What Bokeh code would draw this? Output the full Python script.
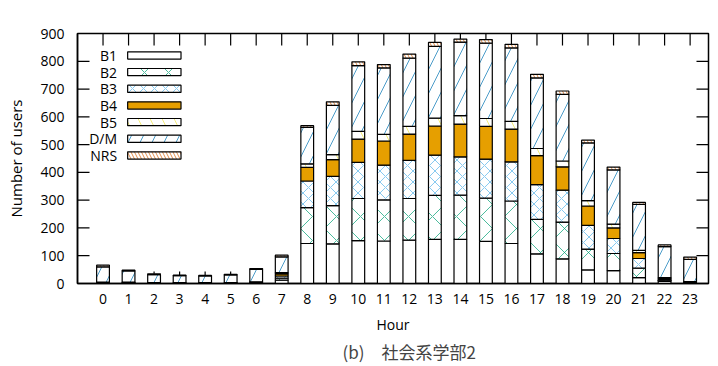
from bokeh.plotting import figure
from bokeh.models import Range1d, FixedTicker, Title, ColumnDataSource
from bokeh.transform import stack
from bokeh.core.properties import value
from bokeh.embed import file_html
from bokeh.resources import INLINE

# ---------------- data ----------------
hours = list(range(24))
hour_labels = [str(h) for h in hours]
y_ticks = [0, 100, 200, 300, 400, 500, 600, 700, 800, 900]

series = ["B1", "B2", "B3", "B4", "B5", "D/M", "NRS"]
b1  = [2, 2, 1, 1, 1, 1, 3, 12, 144, 143, 154, 153, 156, 159, 159, 152, 144, 107, 89, 49, 46, 21, 8, 3]
b2  = [1, 1, 1, 1, 1, 1, 1, 7, 129, 137, 152, 148, 150, 158, 159, 155, 153, 124, 132, 75, 62, 34, 4, 1]
b3  = [1, 1, 0, 0, 0, 0, 1, 8, 96, 106, 130, 125, 137, 145, 138, 141, 141, 125, 115, 85, 54, 35, 4, 1]
b4  = [0, 0, 0, 0, 0, 0, 0, 8, 49, 60, 84, 87, 95, 105, 118, 118, 118, 104, 84, 70, 38, 21, 2, 1]
b5  = [1, 1, 1, 1, 1, 1, 1, 4, 13, 18, 28, 24, 28, 28, 30, 28, 28, 26, 21, 19, 14, 8, 3, 1]
dm  = [55, 40, 29, 25, 24, 28, 45, 57, 131, 177, 236, 239, 245, 259, 265, 271, 264, 254, 240, 208, 195, 166, 112, 80]
nrs = [6, 3, 3, 2, 2, 2, 3, 6, 6, 13, 14, 12, 15, 14, 11, 13, 13, 13, 12, 10, 10, 7, 6, 8]

cols = ["B1", "B2", "B3", "B4", "B5", "DM", "NRS"]
src = ColumnDataSource(dict(hour=hours, B1=b1, B2=b2, B3=b3, B4=b4, B5=b5, DM=dm, NRS=nrs))

# fill colour, hatch pattern, hatch colour, hatch scale
styles = [
    ("white",   None, None,      12),
    ("white",   "x",  "#009E73", 24),
    ("white",   "x",  "#56B4E9", 11),
    ("#E69F00", None, None,      12),
    ("white",   "\\", "#F0E442", 24),
    ("white",   "/",  "#0072B2", 24),
    ("white",   "\\", "#D55E00", 7),
]

FONT = "Open Sans"
X0, X1, Y0, Y1 = -1.0, 23.72, 0, 900

p = figure(frame_width=631, frame_height=250,
           x_range=Range1d(X0, X1), y_range=Range1d(Y0, Y1),
           output_backend="svg", toolbar_location=None,
           min_border_left=77, min_border_top=33, min_border_right=2, min_border_bottom=60)

p.xgrid.visible = False
p.ygrid.visible = False
p.outline_line_color = "black"
p.outline_line_width = 1.5
p.background_fill_color = "white"
p.border_fill_color = "white"

for ax, ticks in ((p.xaxis[0], hours), (p.yaxis[0], y_ticks)):
    ax.ticker = FixedTicker(ticks=ticks, minor_ticks=[])
    ax.major_tick_in = 0
    ax.major_tick_out = 0
    ax.minor_tick_in = 0
    ax.minor_tick_out = 0
    ax.axis_line_color = "black"
    ax.axis_line_width = 1.5
    ax.major_label_text_font = FONT
    ax.major_label_text_font_size = "14px"
    ax.major_label_text_color = "black"
    ax.axis_label_text_font = FONT
    ax.axis_label_text_font_size = "15px"
    ax.axis_label_text_font_style = "normal"
    ax.axis_label_text_color = "black"

xa = p.xaxis[0]
xa.major_label_overrides = {h: l for h, l in zip(hours, hour_labels)}
xa.major_label_standoff = 10
xa.axis_label = "Hour"
xa.axis_label_text_font_size = "14px"
xa.axis_label_standoff = 8

ya = p.yaxis[0]
ya.major_label_standoff = 13
ya.axis_label = "Number of users"
ya.axis_label_standoff = 11

# inward tick marks on all four sides (drawn before the bars so bars cover them)
tick_kw = dict(marker="dash", size=24, line_color="black", line_width=1.2, fill_color=None)
p.scatter(x=hours, y=[Y0] * len(hours), angle=1.5708, **tick_kw)
p.scatter(x=hours, y=[Y1] * len(hours), angle=1.5708, **tick_kw)
p.scatter(x=[X0] * len(y_ticks), y=y_ticks, **tick_kw)
p.scatter(x=[X1] * len(y_ticks), y=y_ticks, **tick_kw)

# ---------------- stacked bars ----------------
for i, (col, (fill, hp, hc, hs)) in enumerate(zip(cols, styles)):
    kw = dict(fill_color=fill, line_color="black", line_width=1.2)
    if hp:
        kw.update(hatch_pattern=hp, hatch_color=hc, hatch_scale=hs,
                  hatch_weight=1.0, hatch_alpha=0.7)
    p.vbar(x="hour", width=0.5, bottom=stack(*cols[:i]) if i else 0,
           top=stack(*cols[:i + 1]), source=src, **kw)

# ---------------- legend (label left, swatch right, like the original) ----------------
leg_y0, leg_dy = 821, 60
for i, (name, (fill, hp, hc, hs)) in enumerate(zip(series, styles)):
    yv = leg_y0 - i * leg_dy
    kw = dict(fill_color=fill, line_color="black", line_width=1.2)
    if hp:
        kw.update(hatch_pattern=hp, hatch_color=hc, hatch_scale=hs,
                  hatch_weight=1.0, hatch_alpha=0.7)
    p.rect(x=[2.01], y=[yv], width=2.09, height=26, **kw)
    p.text(x=[0.55], y=[yv], text=[name], text_align="right", text_baseline="middle",
           text_font=value(FONT), text_font_size="14px", text_color="black")

cap = Title(text="(b)\u3000社会系学部2", align="left", offset=265,
            text_font="Noto Sans CJK JP", text_font_size="17px",
            text_font_style="normal", standoff=0)
p.add_layout(cap, "below")

open("out.html", "w").write(file_html(p, INLINE))
